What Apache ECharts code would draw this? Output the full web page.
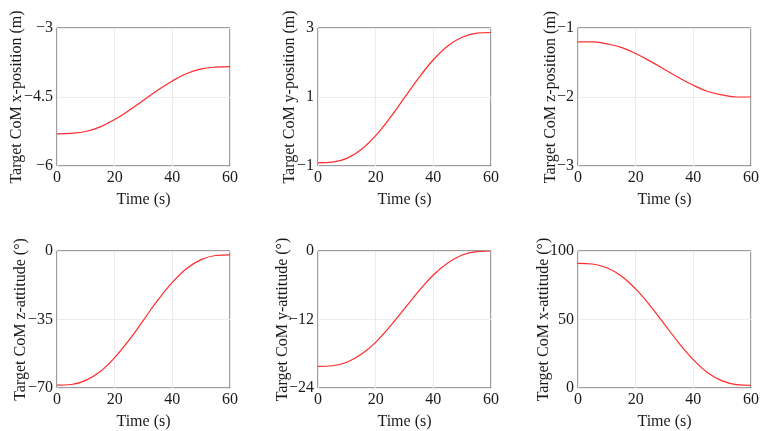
<!DOCTYPE html>
<html>
<head>
<meta charset="utf-8">
<script src="https://cdn.jsdelivr.net/npm/echarts@6/dist/echarts.min.js"></script>
<style>
  html, body { margin: 0; padding: 0; background: #fff; }
  #chart { width: 766px; height: 431px; }
</style>
</head>
<body>
<div id="chart"></div>
<script>
// time samples (s)
const time = [0, 5, 10, 15, 20, 25, 30, 35, 40, 45, 50, 55, 60]

// values
const xPosition = [-5.30, -5.29, -5.25, -5.15, -4.99, -4.79, -4.57, -4.35, -4.15, -3.99, -3.89, -3.85, -3.84]
const yPosition = [-0.91, -0.89, -0.78, -0.52, -0.12, 0.40, 0.98, 1.56, 2.08, 2.48, 2.73, 2.85, 2.87]
const zPosition = [-1.20, -1.20, -1.23, -1.28, -1.37, -1.48, -1.60, -1.72, -1.83, -1.92, -1.97, -2.00, -2.00]
const zAttitude = [-68.5, -68.2, -66.1, -61.6, -54.5, -45.5, -35.3, -25.0, -16.0, -8.9, -4.4, -2.3, -2.0]
const yAttitude = [-20.2, -20.1, -19.5, -18.1, -16.0, -13.2, -10.1, -7.0, -4.2, -2.1, -0.7, -0.1, 0]
const xAttitude = [91.0, 90.5, 87.8, 81.8, 72.3, 60.2, 46.5, 32.8, 20.7, 11.2, 5.2, 2.5, 2.0]

// panel definitions: axis title, y range, tick step, title offset
const panels = [
  { name: 'Target CoM x-position (m)', data: xPosition, min: -6, max: -3, interval: 1.5, gap: 32 },
  { name: 'Target CoM y-position (m)', data: yPosition, min: -1, max: 3, interval: 2, gap: 20 },
  { name: 'Target CoM z-position (m)', data: zPosition, min: -3, max: -1, interval: 1, gap: 19.5 },
  { name: 'Target CoM z-attitude (°)', data: zAttitude, min: -70, max: 0, interval: 35, gap: 28.5 },
  { name: 'Target CoM y-attitude (°)', data: yAttitude, min: -24, max: 0, interval: 12, gap: 27.5 },
  { name: 'Target CoM x-attitude (°)', data: xAttitude, min: 0, max: 100, interval: 50, gap: 26 }
]

const FONT = 'Liberation Serif'
const TEXT_COLOR = '#1a1a1a'
const BOX_COLOR = '#3c3c3c'
const GRID_COLOR = '#ececec'
const LINE_COLOR = '#ff2a2a'

const COLS = [57, 318, 578]
const ROWS = [28, 251]
const W = 173
const H = 138

const fmt = v => String(v).replace('-', '\u2212')

const chart = echarts.init(document.getElementById('chart'), null, { renderer: 'canvas' })

const grid = []
const xAxis = []
const yAxis = []
const series = []

panels.forEach((p, i) => {
  const col = i % 3
  const row = Math.floor(i / 3)
  grid.push({
    left: COLS[col],
    top: ROWS[row],
    width: W,
    height: H,
    show: true,
    borderColor: BOX_COLOR,
    borderWidth: 1,
    backgroundColor: 'transparent'
  })
  xAxis.push({
    gridIndex: i,
    type: 'value',
    min: 0,
    max: 60,
    interval: 20,
    name: 'Time (s)',
    nameLocation: 'middle',
    nameGap: 26,
    nameMoveOverlap: false,
    nameTextStyle: { fontFamily: FONT, fontSize: 16, color: TEXT_COLOR },
    axisLine: { show: false },
    axisTick: { show: false },
    axisLabel: { fontFamily: FONT, fontSize: 16, color: TEXT_COLOR, margin: 4 },
    splitLine: { show: true, lineStyle: { color: GRID_COLOR, width: 1 } }
  })
  yAxis.push({
    gridIndex: i,
    type: 'value',
    min: p.min,
    max: p.max,
    interval: p.interval,
    name: p.name,
    nameLocation: 'middle',
    nameGap: p.gap,
    nameRotate: 90,
    nameMoveOverlap: false,
    nameTextStyle: { fontFamily: FONT, fontSize: 16, color: TEXT_COLOR },
    axisLine: { show: false },
    axisTick: { show: false },
    axisLabel: { fontFamily: FONT, fontSize: 16, color: TEXT_COLOR, margin: 4, formatter: fmt },
    splitLine: { show: true, lineStyle: { color: GRID_COLOR, width: 1 } }
  })
  series.push({
    type: 'line',
    xAxisIndex: i,
    yAxisIndex: i,
    data: time.map((t, k) => [t, p.data[k]]),
    smooth: 0.4,
    showSymbol: false,
    lineStyle: { color: LINE_COLOR, width: 1.2 },
    animation: false
  })
})

chart.setOption({
  animation: false,
  backgroundColor: '#ffffff',
  grid,
  xAxis,
  yAxis,
  series
})
</script>
</body>
</html>
